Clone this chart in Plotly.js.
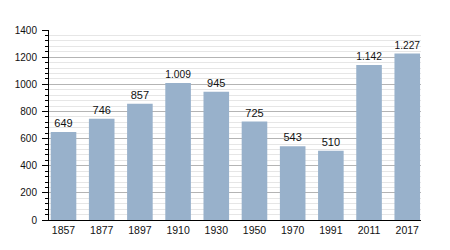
<!DOCTYPE html>
<html>
<head>
<meta charset="utf-8">
<script src="https://cdn.plot.ly/plotly-3.0.1.min.js"></script>
<style>html,body{margin:0;padding:0;background:#fff;}#chart{width:450px;height:250px;}</style>
</head>
<body>
<div id="chart"></div>
<script>
var years = ['1857','1877','1897','1910','1930','1950','1970','1991','2011','2017'];
var population = [649, 746, 857, 1009, 945, 725, 543, 510, 1142, 1227];
var yTickValues = [0, 200, 400, 600, 800, 1000, 1200, 1400];

function fmt(v) {
  var s = String(v);
  return s.length > 3 ? s.slice(0, s.length - 3) + '.' + s.slice(s.length - 3) : s;
}
var labels = population.map(fmt);

var trace = {
  type: 'bar',
  x: years,
  y: population,
  text: labels,
  textposition: 'outside',
  cliponaxis: false,
  textfont: {family: 'Liberation Sans, Arial, sans-serif', size: 11, color: '#111'},
  marker: {color: '#98b1cb', line: {width: 0}},
  width: 0.67,
  hoverinfo: 'none'
};

var layout = {
  width: 450,
  height: 250,
  margin: {l: 49, r: 29, t: 30, b: 30},
  paper_bgcolor: '#fff',
  plot_bgcolor: '#fff',
  showlegend: false,
  font: {family: 'Liberation Sans, Arial, sans-serif', size: 11, color: '#111'},
  xaxis: {
    type: 'category',
    range: [-0.38, 9.36],
    showgrid: false,
    showline: true,
    linecolor: '#000',
    linewidth: 1,
    ticks: '',
    tickfont: {size: 10.5, color: '#111'},
    fixedrange: true
  },
  yaxis: {
    range: [0, 1400],
    tickvals: yTickValues,
    ticktext: yTickValues.map(String),
    showgrid: true,
    gridcolor: '#b4b4b4',
    gridwidth: 1,
    showline: true,
    linecolor: '#000',
    linewidth: 1,
    ticks: 'outside',
    ticklen: 6,
    tickcolor: '#000',
    ticklabelstandoff: 3,
    tickfont: {size: 10, color: '#111'},
    zeroline: false,
    minor: {dtick: 40, showgrid: true, gridcolor: '#e6e6e6', gridwidth: 1, ticks: 'outside', ticklen: 3, tickcolor: '#000'},
    fixedrange: true
  },
  bargap: 0.33
};

Plotly.newPlot('chart', [trace], layout, {staticPlot: true, displayModeBar: false});
</script>
</body>
</html>
